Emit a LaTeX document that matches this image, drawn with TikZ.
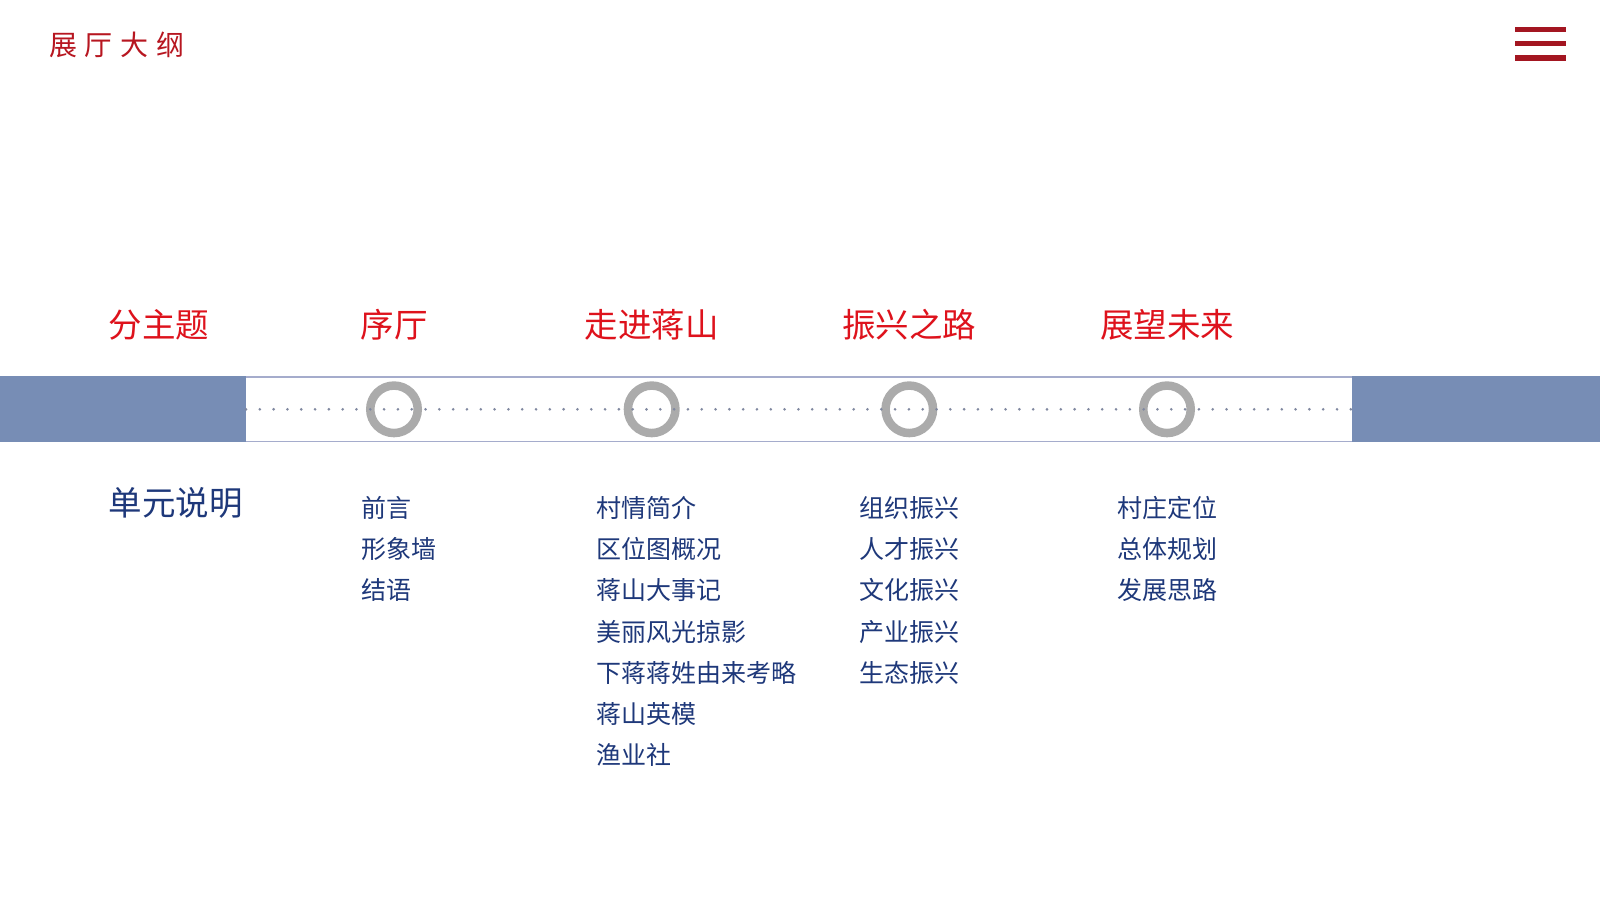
\documentclass[tikz,border=0pt]{standalone}
\usepackage{fontspec}
\setmainfont{Noto Sans CJK SC}
\definecolor{titlered}{RGB}{183,22,32}
\definecolor{menured}{RGB}{163,22,33}
\definecolor{headred}{RGB}{222,18,28}
\definecolor{navy}{RGB}{30,56,122}
\definecolor{bandblue}{RGB}{119,141,181}
\definecolor{bandline}{RGB}{165,172,204}
\definecolor{ringgray}{RGB}{171,171,171}
\definecolor{dotgray}{RGB}{128,136,160}
\begin{document}
\begin{tikzpicture}[x=1pt,y=-1pt,
  big/.style={inner sep=0pt, outer sep=0pt, text height=29pt, text depth=4pt, font=\fontsize{33.5}{33.5}\selectfont},
  head/.style={big, text=headred},
  unit/.style={big, text=navy, anchor=west},
  item/.style={inner sep=0pt, outer sep=0pt, text height=22pt, text depth=3pt, font=\fontsize{25}{25}\selectfont, text=navy, anchor=west},
  titletext/.style={inner sep=0pt, outer sep=0pt, text height=24.6pt, text depth=3.4pt, font=\fontsize{28}{28}\selectfont, text=titlered, anchor=west},
  ring/.style={circle, draw=ringgray, line width=8.5pt, minimum size=47.5pt, inner sep=0pt, fill=white},
  bar/.style={fill=menured}]
\useasboundingbox (0,0) rectangle (1600,900);
\fill[white] (0,0) rectangle (1600,900);

% title and menu
\node[titletext] (title) at (49,45) {展\hspace{8pt}厅\hspace{8pt}大\hspace{8pt}纲};
\fill[bar] (1515,27) rectangle (1566,32);
\fill[bar] (1515,40.5) rectangle (1566,45.5);
\fill[bar] (1515,55) rectangle (1566,60.5);

% band
\fill[bandblue] (0,376) rectangle (246,442.3);
\fill[bandblue] (1352,376) rectangle (1600,442.3);
\draw[bandline, line width=1.5pt] (246,376.75) -- (1352,376.75);
\draw[bandline, line width=1.5pt] (246,441.5) -- (1352,441.5);

% rings
\node[ring] (c1) at (394,409.3) {};
\node[ring] (c2) at (651.7,409.3) {};
\node[ring] (c3) at (909.3,409.3) {};
\node[ring] (c4) at (1167,409.3) {};

% dots
\foreach \i in {0,...,80}{
  \fill[dotgray] (246+\i*13.81,409.3) circle (1.45pt);
}

% headers
\node[head, anchor=west] (hsub) at (108.5,325) {分主题};
\node[head] (h1) at (394,325) {序厅};
\node[head] (h2) at (651.7,325) {走进蒋山};
\node[head] (h3) at (909.3,325) {振兴之路};
\node[head] (h4) at (1167,325) {展望未来};

% unit label
\node[unit] (unit) at (108.5,503) {单元说明};

% column 1
\node[item] (a1) at (361,508) {前言};
\node[item] (a2) at (361,549.2) {形象墙};
\node[item] (a3) at (361,590.4) {结语};

% column 2
\node[item] (b1) at (596,508) {村情简介};
\node[item] (b2) at (596,549.2) {区位图概况};
\node[item] (b3) at (596,590.4) {蒋山大事记};
\node[item] (b4) at (596,631.6) {美丽风光掠影};
\node[item] (b5) at (596,672.8) {下蒋蒋姓由来考略};
\node[item] (b6) at (596,714) {蒋山英模};
\node[item] (b7) at (596,755.2) {渔业社};

% column 3
\node[item] (d1) at (859,508) {组织振兴};
\node[item] (d2) at (859,549.2) {人才振兴};
\node[item] (d3) at (859,590.4) {文化振兴};
\node[item] (d4) at (859,631.6) {产业振兴};
\node[item] (d5) at (859,672.8) {生态振兴};

% column 4
\node[item] (e1) at (1117,508) {村庄定位};
\node[item] (e2) at (1117,549.2) {总体规划};
\node[item] (e3) at (1117,590.4) {发展思路};
\end{tikzpicture}
\end{document}
